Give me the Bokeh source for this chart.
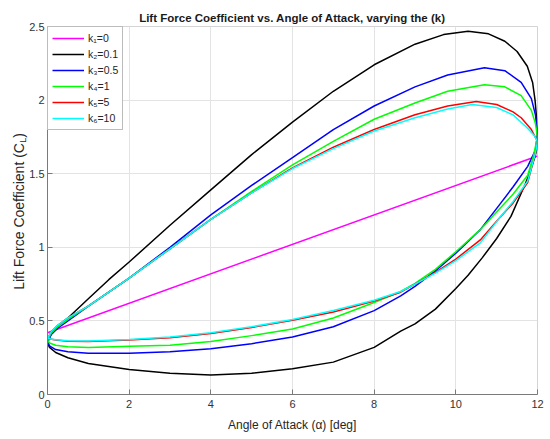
import math
from bokeh.plotting import figure
from bokeh.models import Range1d, FixedTicker, NumeralTickFormatter, Legend, LegendItem, Label
from bokeh.embed import file_html
from bokeh.resources import INLINE

# ---------------- data ----------------
x_ticks = [0, 2, 4, 6, 8, 10, 12]
y_ticks = [0, 0.5, 1, 1.5, 2, 2.5]

labels = ["k\u2081=0", "k\u2082=0.1", "k\u2083=0.5", "k\u2084=1", "k\u2085=5", "k\u2086=10"]

# k1 = 0 (quasi-steady, straight line)
alpha_k1 = [0, 12]
cl_k1 = [0.42, 1.62]

# k2 = 0.1  (upper branch, then lower branch back to 0)
alpha_k2 = [0, 0.1, 0.25, 0.5, 1, 1.5, 2, 3, 4, 5, 6, 7, 8, 9, 9.7, 10.3, 10.8, 11.2, 11.5,
            11.75, 11.88, 11.94, 11.98, 12,
            11.98, 11.92, 11.8, 11.7, 11.35, 11, 10.65, 10.3, 10, 9.5, 9, 8.65, 8, 7, 6, 5, 4,
            3, 2, 1, 0.5, 0.2, 0.05, 0]
cl_k2 = [0.35, 0.42, 0.46, 0.52, 0.65, 0.78, 0.90, 1.15, 1.39, 1.63, 1.85, 2.06, 2.24, 2.38,
         2.445, 2.467, 2.45, 2.40, 2.33, 2.23, 2.12, 2.0, 1.87, 1.76,
         1.66, 1.60, 1.50, 1.43, 1.21, 1.06, 0.93, 0.81, 0.72, 0.58, 0.48, 0.43, 0.32, 0.22,
         0.175, 0.145, 0.133, 0.145, 0.17, 0.21, 0.25, 0.285, 0.32, 0.35]

# k3 = 0.5
alpha_k3 = [0, 0.1, 0.25, 0.5, 1, 2, 3, 4, 5, 6, 7, 8, 9, 9.8, 10.7, 11.2, 11.6, 11.85, 11.95, 12,
            11.95, 11.76, 11.4, 11.1, 10.6, 10, 9.5, 9, 8.65, 8, 7, 6, 5, 4, 3, 2, 1, 0.5, 0.2,
            0.05, 0]
cl_k3 = [0.36, 0.41, 0.45, 0.50, 0.60, 0.79, 1.00, 1.22, 1.42, 1.61, 1.80, 1.96, 2.09, 2.17,
         2.22, 2.20, 2.12, 2.01, 1.90, 1.77,
         1.66, 1.55, 1.41, 1.30, 1.12, 0.96, 0.84, 0.735, 0.67, 0.57, 0.46, 0.39, 0.345, 0.31,
         0.29, 0.281, 0.28, 0.29, 0.305, 0.33, 0.36]

# k4 = 1
alpha_k4 = [0, 0.1, 0.25, 0.5, 1, 2, 3, 4, 5, 6, 7, 8, 9, 9.8, 10.7, 11.2, 11.6, 11.85, 11.95, 12,
            11.9, 11.76, 11.4, 11.1, 10.6, 10, 9.5, 9, 8.65, 8, 7, 6, 5, 4, 3, 2, 1, 0.5, 0.2,
            0.05, 0]
cl_k4 = [0.37, 0.42, 0.46, 0.51, 0.60, 0.79, 0.99, 1.19, 1.38, 1.56, 1.72, 1.87, 1.98, 2.06,
         2.105, 2.09, 2.03, 1.93, 1.84, 1.75,
         1.62, 1.49, 1.36, 1.27, 1.12, 0.97, 0.85, 0.755, 0.70, 0.625, 0.52, 0.445, 0.40, 0.36,
         0.335, 0.327, 0.32, 0.324, 0.335, 0.35, 0.37]

# k5 = 5
alpha_k5 = [0, 0.1, 0.25, 0.5, 1, 2, 3, 4, 5, 6, 7, 8, 9, 9.8, 10.5, 11, 11.4, 11.6, 11.85, 12,
            11.95, 11.76, 11.4, 11.1, 10.6, 10, 9.5, 9, 8.65, 8, 7, 6, 5, 4, 3, 2, 1, 0.5, 0.2, 0]
cl_k5 = [0.38, 0.43, 0.47, 0.52, 0.60, 0.79, 0.99, 1.19, 1.37, 1.54, 1.68, 1.80, 1.90, 1.96,
         1.99, 1.97, 1.92, 1.88, 1.80, 1.72,
         1.64, 1.44, 1.30, 1.21, 1.05, 0.92, 0.83, 0.75, 0.695, 0.635, 0.56, 0.505, 0.455,
         0.415, 0.385, 0.37, 0.36, 0.362, 0.37, 0.38]

# k6 = 10
alpha_k6 = [0, 0.1, 0.25, 0.5, 1, 2, 3, 4, 5, 6, 7, 8, 9, 9.8, 10.4, 11, 11.4, 11.75, 11.92, 12,
            11.95, 11.76, 11.4, 11.1, 10.6, 10, 9.5, 9, 8.65, 8, 7, 6, 5, 4, 3, 2, 1, 0.5, 0.2, 0]
cl_k6 = [0.38, 0.43, 0.47, 0.52, 0.60, 0.79, 0.99, 1.19, 1.37, 1.535, 1.67, 1.79, 1.88, 1.94,
         1.97, 1.95, 1.90, 1.81, 1.76, 1.72,
         1.64, 1.45, 1.31, 1.21, 1.03, 0.91, 0.825, 0.75, 0.70, 0.64, 0.57, 0.51, 0.46, 0.42,
         0.39, 0.373, 0.363, 0.365, 0.372, 0.38]

alphas = [alpha_k1, alpha_k2, alpha_k3, alpha_k4, alpha_k5, alpha_k6]
cls = [cl_k1, cl_k2, cl_k3, cl_k4, cl_k5, cl_k6]
colors = ["#ff00ff", "#000000", "#0000ff", "#00ff00", "#ff0000", "#00ffff"]

ylabel_main = "Lift Force Coefficient (C"
ylabel_sub = "L"
ylabel_end = ")"

FONT = "Liberation Sans"
W, H = 550, 439
BL, BR, BT, BB = 47, 13, 26, 43

p = figure(width=W, height=H, output_backend="svg", toolbar_location=None,
           x_range=Range1d(0, 12), y_range=Range1d(0, 2.5),
           min_border_left=BL, min_border_right=BR, min_border_top=BT, min_border_bottom=BB,
           title="Lift Force Coefficient vs. Angle of Attack, varying the (k)")

p.title.text_font = FONT
p.title.text_font_size = "11.5px"
p.title.text_font_style = "bold"
p.title.text_color = "#1a1a1a"
p.title.align = "center"
p.title.standoff = 6

p.background_fill_color = "white"
p.border_fill_color = "white"
p.outline_line_color = "#d4d4d4"

for ax in (p.xaxis[0], p.yaxis[0]):
    ax.axis_line_color = "#7a7a7a"
    ax.major_tick_line_color = "#7a7a7a"
    ax.major_tick_in = 5
    ax.major_tick_out = 0
    ax.minor_tick_line_color = None
    ax.major_label_text_font = FONT
    ax.major_label_text_font_size = "11px"
    ax.major_label_text_color = "#333333"
    ax.axis_label_text_font = FONT
    ax.axis_label_text_font_size = "12px"
    ax.axis_label_text_font_style = "normal"
    ax.axis_label_text_color = "#262626"
    ax.major_label_standoff = 5

p.yaxis[0].major_label_standoff = 3
p.xaxis[0].axis_label_standoff = 7

p.xaxis[0].ticker = FixedTicker(ticks=x_ticks)
p.yaxis[0].ticker = FixedTicker(ticks=y_ticks)
p.xaxis[0].formatter = NumeralTickFormatter(format="0.[0]")
p.yaxis[0].formatter = NumeralTickFormatter(format="0.[0]")
p.xaxis[0].axis_label = "Angle of Attack (\u03b1) [deg]"

# y-axis title with a true subscript L: rotated text pieces in canvas coordinates,
# placed in side panels so that they are not clipped to the frame
frame_h = H - BT - BB
main_w = 10.503 * 14     # width of main piece at 14px (Arial metrics)
sub_w = 0.556 * 9
end_w = 0.333 * 14
total = main_w + sub_w + end_w
y_start = BT + frame_h / 2 + total / 2
xl = 18
rot = math.pi / 2
p.add_layout(Label(x=xl, y=y_start, x_units="canvas", y_units="canvas", text=ylabel_main,
                   angle=rot, text_align="left", text_baseline="middle",
                   text_font=FONT, text_font_size="14px", text_color="#262626"), "left")
p.add_layout(Label(x=xl + 4, y=y_start - main_w, x_units="canvas", y_units="canvas",
                   text=ylabel_sub, angle=rot, text_align="left", text_baseline="middle",
                   text_font=FONT, text_font_size="9px", text_color="#262626"), "left")
p.add_layout(Label(x=xl, y=y_start - main_w - sub_w, x_units="canvas", y_units="canvas",
                   text=ylabel_end, angle=rot, text_align="left", text_baseline="middle",
                   text_font=FONT, text_font_size="14px", text_color="#262626"), "below")

p.xgrid.grid_line_color = "#e3e3e3"
p.ygrid.grid_line_color = "#e3e3e3"
p.xgrid.ticker = FixedTicker(ticks=x_ticks)
p.ygrid.ticker = FixedTicker(ticks=y_ticks)

items = []
for a, c, col, lab in zip(alphas, cls, colors, labels):
    r = p.line(a, c, line_color=col, line_width=1.5, line_join="round")
    items.append(LegendItem(label=lab, renderers=[r]))

legend = Legend(items=items, location="top_left", margin=0, padding=4, spacing=2,
                glyph_width=32, glyph_height=14, label_height=14, label_standoff=4,
                label_text_font=FONT, label_text_font_size="10.5px",
                label_text_color="#262626",
                border_line_color="#7a7a7a", border_line_width=1,
                background_fill_color="white", background_fill_alpha=1.0)
p.add_layout(legend)

open("out.html", "w").write(file_html(p, INLINE))
